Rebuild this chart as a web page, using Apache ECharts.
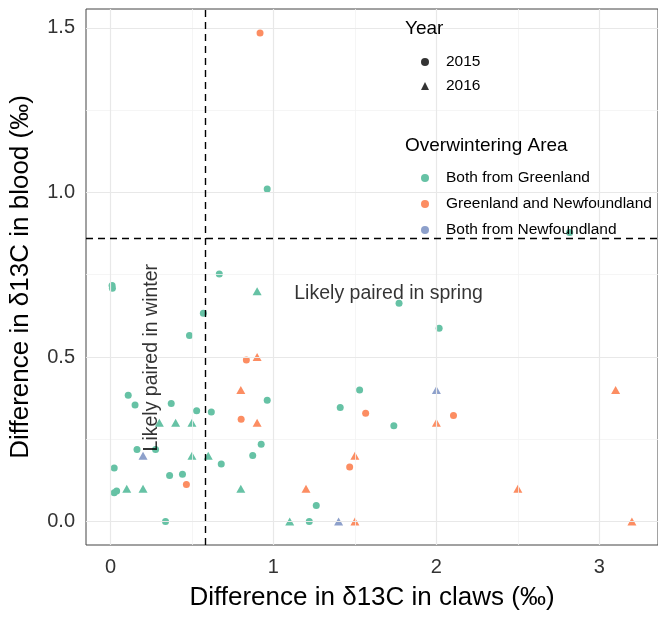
<!DOCTYPE html>
<html><head><meta charset="utf-8">
<script src="https://cdn.jsdelivr.net/npm/echarts@6/dist/echarts.min.js"></script>
<style>html,body{margin:0;padding:0;background:#fff}#c{width:658px;height:618px}</style>
</head><body><div id="c"></div>
<script>
// ---- data ----
const areaNames = ['Both from Greenland', 'Greenland and Newfoundland', 'Both from Newfoundland'];
const areaColors = ['#66C2A5', '#FC8D62', '#8DA0CB'];
const yearNames = ['2015', '2016'];

// Both from Greenland
const glX = [0.962, 0.668, 0.010, 0.012, 0.570, 0.485, 0.962, 0.109, 0.151, 0.373, 0.529, 0.619, 0.163, 0.277, 0.925, 0.873, 0.680, 0.023, 0.363, 0.442, 0.023, 0.038, 0.338, 1.771, 2.017, 1.529, 1.410, 1.739, 1.263, 1.220, 2.818,
             0.90, 0.30, 0.40, 0.50, 0.50, 0.60, 0.10, 0.20, 0.80, 1.10];
const glY = [1.010, 0.752, 0.717, 0.709, 0.633, 0.565, 0.369, 0.384, 0.354, 0.359, 0.337, 0.333, 0.219, 0.219, 0.235, 0.201, 0.175, 0.163, 0.140, 0.144, 0.088, 0.093, 0.000, 0.663, 0.587, 0.400, 0.347, 0.291, 0.049, 0.000, 0.878,
             0.70, 0.30, 0.30, 0.30, 0.20, 0.20, 0.10, 0.10, 0.10, 0.00];
const glYear = [2015, 2015, 2015, 2015, 2015, 2015, 2015, 2015, 2015, 2015, 2015, 2015, 2015, 2015, 2015, 2015, 2015, 2015, 2015, 2015, 2015, 2015, 2015, 2015, 2015, 2015, 2015, 2015, 2015, 2015, 2015,
                2016, 2016, 2016, 2016, 2016, 2016, 2016, 2016, 2016, 2016];

// Greenland and Newfoundland
const gnX = [0.918, 0.834, 0.802, 0.466, 1.566, 2.105, 1.468,
             0.90, 0.80, 0.90, 2.00, 1.50, 1.20, 1.50, 3.10, 2.50, 3.20];
const gnY = [1.484, 0.491, 0.311, 0.113, 0.329, 0.322, 0.166,
             0.50, 0.40, 0.30, 0.30, 0.20, 0.10, 0.00, 0.40, 0.10, 0.00];
const gnYear = [2015, 2015, 2015, 2015, 2015, 2015, 2015,
                2016, 2016, 2016, 2016, 2016, 2016, 2016, 2016, 2016, 2016];

// Both from Newfoundland
const nfX = [0.20, 2.00, 1.40];
const nfY = [0.20, 0.40, 0.00];
const nfYear = [2016, 2016, 2016];

// thresholds
const clawThreshold = 0.58;
const bloodThreshold = 0.86;

// ticks
const xMajor = [0, 1, 2, 3];
const xTickLabels = ['0', '1', '2', '3'];
const xMinor = [0.5, 1.5, 2.5];
const yMajor = [0, 0.5, 1.0, 1.5];
const yTickLabels = ['0.0', '0.5', '1.0', '1.5'];
const yMinor = [0.25, 0.75, 1.25];

// annotations
const annotTexts = ['Likely paired in spring', 'Likely paired in winter'];
const annotX = [1.125, 0.253];
const annotY = [0.694, 0.498];

// ---- chart ----
const FONT = "'Liberation Sans', Arial, Helvetica, sans-serif";
function lbl(vals, labels) {
  return v => { for (let i = 0; i < vals.length; i++) if (Math.abs(vals[i] - v) < 1e-9) return labels[i]; return ''; };
}
function pts(xs, ys, yrs) { return xs.map((x, i) => [x, ys[i], yrs[i]]); }

const areaData = [pts(glX, glY, glYear), pts(gnX, gnY, gnYear), pts(nfX, nfY, nfYear)];

const series = [];
const gridLine = (axis, vals, color, width) => vals.map(v => ({ [axis]: v, lineStyle: { color: color, width: width, type: 'solid' } }));
series.push({
  type: 'scatter', name: 'grid', data: [], silent: true, z: 1,
  markLine: {
    silent: true, symbol: ['none', 'none'], label: { show: false }, animation: false,
    emphasis: { disabled: true },
    data: [].concat(
      gridLine('xAxis', xMinor, '#f2f2f2', 0.8), gridLine('yAxis', yMinor, '#f2f2f2', 0.8),
      gridLine('xAxis', xMajor, '#e8e8e8', 1.2), gridLine('yAxis', yMajor, '#e8e8e8', 1.2))
  }
});
areaNames.forEach((n, i) => {
  series.push({
    type: 'scatter', name: n, data: areaData[i], z: 3,
    symbol: v => v[2] === 2015 ? 'circle' : 'triangle',
    symbolSize: v => v[2] === 2015 ? 7 : [9, 8],
    itemStyle: { color: areaColors[i], opacity: 1 },
    emphasis: { disabled: true }
  });
});
yearNames.forEach((n, i) => {
  series.push({ type: 'scatter', name: n, data: [], itemStyle: { color: '#000' }, symbol: i === 0 ? 'circle' : 'triangle' });
});
series.push({
  type: 'scatter', name: 'thresholds', data: [], z: 4,
  markLine: {
    silent: true, symbol: ['none', 'none'], label: { show: false }, animation: false,
    lineStyle: { color: '#000', width: 1.4, type: [7, 5] },
    data: [{ xAxis: clawThreshold }, { yAxis: bloodThreshold }]
  }
});
series.push({
  type: 'scatter', name: 'annot1', z: 5, silent: true,
  data: [[annotX[0], annotY[0]]], symbolSize: 1, itemStyle: { color: 'rgba(0,0,0,0)' },
  label: { show: true, formatter: annotTexts[0], position: 'right', distance: 0, fontSize: 19.5, color: '#000', fontFamily: FONT }
});
series.push({
  type: 'scatter', name: 'annot2', z: 5, silent: true,
  data: [[annotX[1], annotY[1]]], symbolSize: 1, itemStyle: { color: 'rgba(0,0,0,0)' },
  label: { show: true, formatter: annotTexts[1], position: 'inside', rotate: 90, align: 'center', verticalAlign: 'middle', fontSize: 19.5, color: '#000', fontFamily: FONT }
});

const legendText = { fontSize: 15.5, color: '#000', fontFamily: FONT, padding: [0, 0, 0, 12] };
const option = {
  animation: false,
  textStyle: { fontFamily: FONT },
  grid: { left: 86, right: -4, top: 9, bottom: 73, show: true, borderColor: '#444', borderWidth: 1, backgroundColor: '#fff' },
  title: [
    { text: 'Year', left: 405, top: 19, padding: 0, textStyle: { fontSize: 19, fontWeight: 'normal', color: '#000', fontFamily: FONT } },
    { text: 'Overwintering Area', left: 405, top: 136, padding: 0, textStyle: { fontSize: 19, fontWeight: 'normal', color: '#000', fontFamily: FONT } }
  ],
  legend: [
    { data: [{ name: '2015', icon: 'circle' }, { name: '2016', icon: 'triangle' }], orient: 'vertical', left: 416, top: 49,
      itemWidth: 8, itemHeight: 8, itemGap: 8, selectedMode: false, textStyle: legendText },
    { data: areaNames.map(n => ({ name: n, icon: 'circle' })), orient: 'vertical', left: 416, top: 165,
      itemWidth: 8, itemHeight: 8, itemGap: 10, selectedMode: false, textStyle: legendText }
  ],
  xAxis: {
    type: 'value', min: -0.15, max: 3.36,
    splitLine: { show: false }, axisLine: { show: false },
    axisTick: { show: true, length: 5, lineStyle: { color: '#333' }, customValues: xMajor },
    axisLabel: { customValues: xMajor, formatter: lbl(xMajor, xTickLabels), fontSize: 20, color: '#333', margin: 12, fontFamily: FONT },
    name: 'Difference in δ13C in claws (‰)', nameLocation: 'middle', nameGap: 40,
    nameTextStyle: { fontSize: 26, color: '#000', fontFamily: FONT }
  },
  yAxis: {
    type: 'value', min: -0.071, max: 1.557,
    splitLine: { show: false }, axisLine: { show: false },
    axisTick: { show: true, length: 5, lineStyle: { color: '#333' }, customValues: yMajor },
    axisLabel: { customValues: yMajor, formatter: lbl(yMajor, yTickLabels), fontSize: 20, color: '#333', margin: 11, fontFamily: FONT },
    name: 'Difference in δ13C in blood (‰)', nameLocation: 'middle', nameGap: 52,
    nameTextStyle: { fontSize: 26, color: '#000', fontFamily: FONT }
  },
  series: series
};
const chart = echarts.init(document.getElementById('c'), null, { renderer: 'canvas' });
chart.setOption(option);
</script></body></html>
